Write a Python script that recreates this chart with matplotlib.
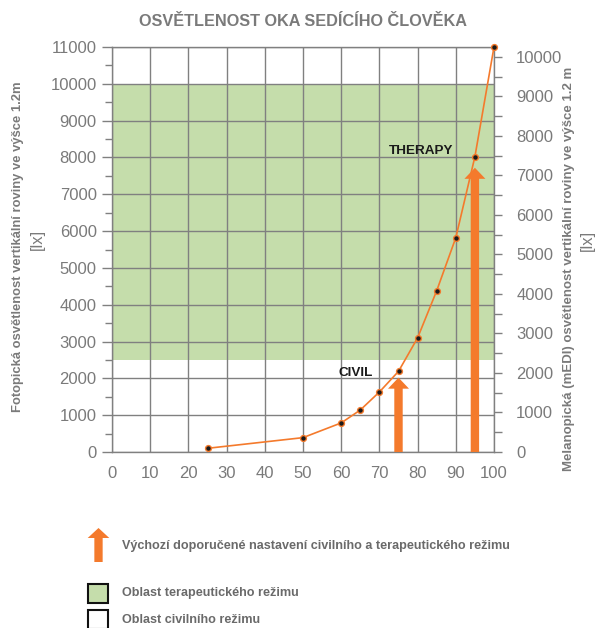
import matplotlib
matplotlib.use("Agg")
import matplotlib.pyplot as plt
from matplotlib.patches import FancyArrow, Rectangle
from matplotlib.ticker import MultipleLocator

plt.rcParams['font.family'] = ['Liberation Sans', 'DejaVu Sans']

# ---- data ----
x_vals = [25, 50, 60, 65, 70, 75, 80, 85, 90, 95, 100]
y_vals = [100, 390, 790, 1140, 1630, 2190, 3100, 4380, 5820, 8020, 11000]
arrow_x = [75, 95]
arrow_top = [2020, 7720]
arrow_labels = ["CIVIL", "THERAPY"]
label_pos = [(63.7, 2150), (80.9, 8180)]
therapy_band = (2500, 10000)
x_ticks = list(range(0, 101, 10))
left_ticks = list(range(0, 11001, 1000))
right_ticks = list(range(0, 10001, 1000))
right_max = 10253

title = "OSVĚTLENOST OKA SEDÍCÍHO ČLOVĚKA"
left_label = "Fotopická osvětlenost vertikální roviny ve výšce 1.2m"
right_label = "Melanopická (mEDI) osvětlenost vertikální roviny ve výšce 1.2 m"
unit = "[lx]"
legend_texts = ["Výchozí doporučené nastavení civilního a terapeutického režimu",
                "Oblast terapeutického režimu",
                "Oblast civilního režimu"]

ORANGE = "#F47A2C"
GREEN = "#C5DDAB"
GRID = "#808080"
TXT = "#7a7a7a"
LEG = "#6a6a6a"

W, H = 595, 628
fig = plt.figure(figsize=(W / 100, H / 100), dpi=100)
ax = fig.add_axes([112 / W, 1 - 452 / H, (494 - 112) / W, (452 - 47) / H])
ax.set_xlim(0, 100)
ax.set_ylim(0, 11000)

ax.axhspan(therapy_band[0], therapy_band[1], color=GREEN, lw=0, zorder=0)

ax.set_xticks(x_ticks)
ax.set_yticks(left_ticks)
ax.yaxis.set_minor_locator(MultipleLocator(500))
ax.grid(True, which='major', color=GRID, lw=1.0, zorder=1)
ax.set_axisbelow(True)
for s in ax.spines.values():
    s.set_color(GRID)
    s.set_linewidth(1.0)
ax.tick_params(axis='x', length=0, pad=10, labelsize=12, labelcolor=TXT)
ax.tick_params(axis='y', which='major', length=7, width=1, color=GRID, pad=4,
               labelsize=12, labelcolor=TXT)
ax.tick_params(axis='y', which='minor', length=5, width=1, color=GRID)

ax2 = ax.twinx()
ax2.set_ylim(0, right_max)
ax2.set_yticks(right_ticks)
ax2.yaxis.set_minor_locator(MultipleLocator(500))
for s in ax2.spines.values():
    s.set_visible(False)
ax2.tick_params(axis='y', which='major', length=6, width=1, color=GRID, pad=10,
                labelsize=12, labelcolor=TXT)
ax2.tick_params(axis='y', which='minor', length=6, width=1, color=GRID)

# arrows
for xa, ya in zip(arrow_x, arrow_top):
    head_len = 300
    ar = FancyArrow(xa, 0, 0, ya, width=2.2, head_width=5.5, head_length=head_len,
                    length_includes_head=True, color=ORANGE, lw=0, zorder=3)
    ax.add_patch(ar)

ax.plot(x_vals, y_vals, color=ORANGE, lw=1.2, marker='o', ms=4.2, mfc='#1a1a1a',
        mec=ORANGE, mew=1.0, zorder=4, clip_on=False)

for t, (lx, ly) in zip(arrow_labels, label_pos):
    ax.text(lx, ly, t, ha='center', va='center', fontsize=9.7, fontweight='bold',
            color='#1a1a1a', zorder=5)

fig.text(303 / W, 1 - 21 / H, title, ha='center', va='center', fontsize=11.7,
         fontweight='bold', color=TXT)

fig.text(18 / W, 1 - 247 / H, left_label, rotation=90, ha='center', va='center',
         fontsize=9.4, fontweight='bold', color=TXT)
fig.text(37 / W, 1 - 239 / H, unit, rotation=90, ha='center', va='center',
         fontsize=12, color=TXT)
fig.text(569 / W, 1 - 269 / H, right_label, rotation=90, ha='center', va='center',
         fontsize=9.5, fontweight='bold', color=TXT)
fig.text(587 / W, 1 - 240 / H, unit, rotation=90, ha='center', va='center',
         fontsize=12, color=TXT)

# legend
tr = fig.dpi_scale_trans
def px(x, y):
    return x / 100, (H - y) / 100
x0, y0 = px(98.5, 562)
fig.patches.append(FancyArrow(x0, y0, 0, 0.34, width=0.083, head_width=0.216,
                              head_length=0.10, length_includes_head=True,
                              color=ORANGE, lw=0, transform=tr, figure=fig))
for (yy, fc) in [(584, GREEN), (610, 'white')]:
    rx, ry = px(88, yy + 19)
    fig.patches.append(Rectangle((rx, ry), 0.20, 0.19, facecolor=fc, edgecolor='#111111',
                                 lw=1.5, transform=tr, figure=fig))
for t, yy in zip(legend_texts, [546, 593, 620]):
    fig.text(122 / W, 1 - yy / H, t, ha='left', va='center', fontsize=9.1,
             fontweight='bold', color=LEG)

fig.savefig("out.png", dpi=100)
